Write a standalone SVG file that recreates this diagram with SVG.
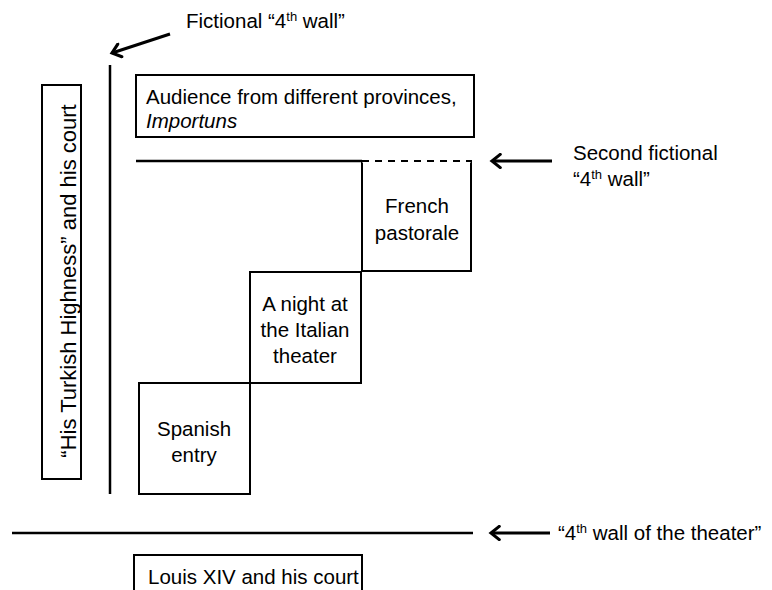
<svg xmlns="http://www.w3.org/2000/svg" width="772" height="590" viewBox="0 0 772 590">
<style>
  text { font-family: "Liberation Sans", Arial, sans-serif; font-size: 20.5px; fill: #000; }
  .box { fill: #fff; stroke: #000; stroke-width: 2; }
  .wall { stroke: #000; stroke-width: 2.5; fill: none; }
  .arrow { stroke: #000; stroke-width: 3; fill: none; }
  .c { text-anchor: middle; }
  .sup { font-size: 13px; }
</style>
<defs>
  <marker id="head" viewBox="0 0 10 10" refX="8" refY="5" markerWidth="5.5" markerHeight="5.5" orient="auto" markerUnits="strokeWidth">
    <path d="M3,1 L8,5 L3,9" fill="none" stroke="#000" stroke-width="1.9" stroke-linecap="round" stroke-linejoin="miter"/>
  </marker>
</defs>
<rect width="772" height="590" fill="#fff"/>

<g id="connectors">
  <line class="wall" x1="110" y1="65" x2="110" y2="494"/>
  <line class="wall" x1="136" y1="161" x2="362" y2="161"/>
  <line class="wall" x1="12" y1="533" x2="473" y2="533"/>
  <line class="arrow" x1="170" y1="34" x2="112" y2="53" marker-end="url(#head)"/>
  <line class="arrow" x1="552" y1="161" x2="492" y2="161" marker-end="url(#head)"/>
  <line class="arrow" x1="550" y1="533" x2="491" y2="533" marker-end="url(#head)"/>
</g>

<g id="label-fictional">
  <text x="186" y="28">Fictional “4<tspan class="sup" dy="-7">th</tspan><tspan dy="7"> wall”</tspan></text>
</g>
<g id="label-second">
  <text x="573" y="160">Second fictional</text>
  <text x="573" y="186">“4<tspan class="sup" dy="-7">th</tspan><tspan dy="7"> wall”</tspan></text>
</g>
<g id="label-theater">
  <text x="558" y="540">“4<tspan class="sup" dy="-7">th</tspan><tspan dy="7"> wall of the theater”</tspan></text>
</g>

<g id="turkish">
  <rect class="box" x="42" y="85" width="39" height="394"/>
  <text class="c" transform="translate(76,281) rotate(-90)" style="font-size:22px">“His Turkish Highness” and his court</text>
</g>

<g id="audience">
  <rect class="box" x="136" y="75" width="338" height="62"/>
  <text x="146" y="104">Audience from different provinces,</text>
  <text x="146" y="128" font-style="italic">Importuns</text>
</g>

<g id="french">
  <rect class="box" x="362" y="161" width="109" height="110"/>
  <line x1="362" y1="161" x2="471" y2="161" stroke="#fff" stroke-width="3"/>
  <line x1="362" y1="161" x2="471" y2="161" stroke="#000" stroke-width="2" stroke-dasharray="7,6"/>
  <text class="c" x="417" y="213">French</text>
  <text class="c" x="417" y="240">pastorale</text>
</g>

<g id="italian">
  <rect class="box" x="250" y="272" width="111" height="111"/>
  <text class="c" x="305" y="311">A night at</text>
  <text class="c" x="305" y="337">the Italian</text>
  <text class="c" x="305" y="363">theater</text>
</g>

<g id="spanish">
  <rect class="box" x="139" y="383" width="111" height="111"/>
  <text class="c" x="194" y="436">Spanish</text>
  <text class="c" x="194" y="462">entry</text>
</g>

<g id="louis">
  <rect class="box" x="134" y="555" width="228" height="45"/>
  <text x="148" y="584">Louis XIV and his court</text>
</g>
</svg>
